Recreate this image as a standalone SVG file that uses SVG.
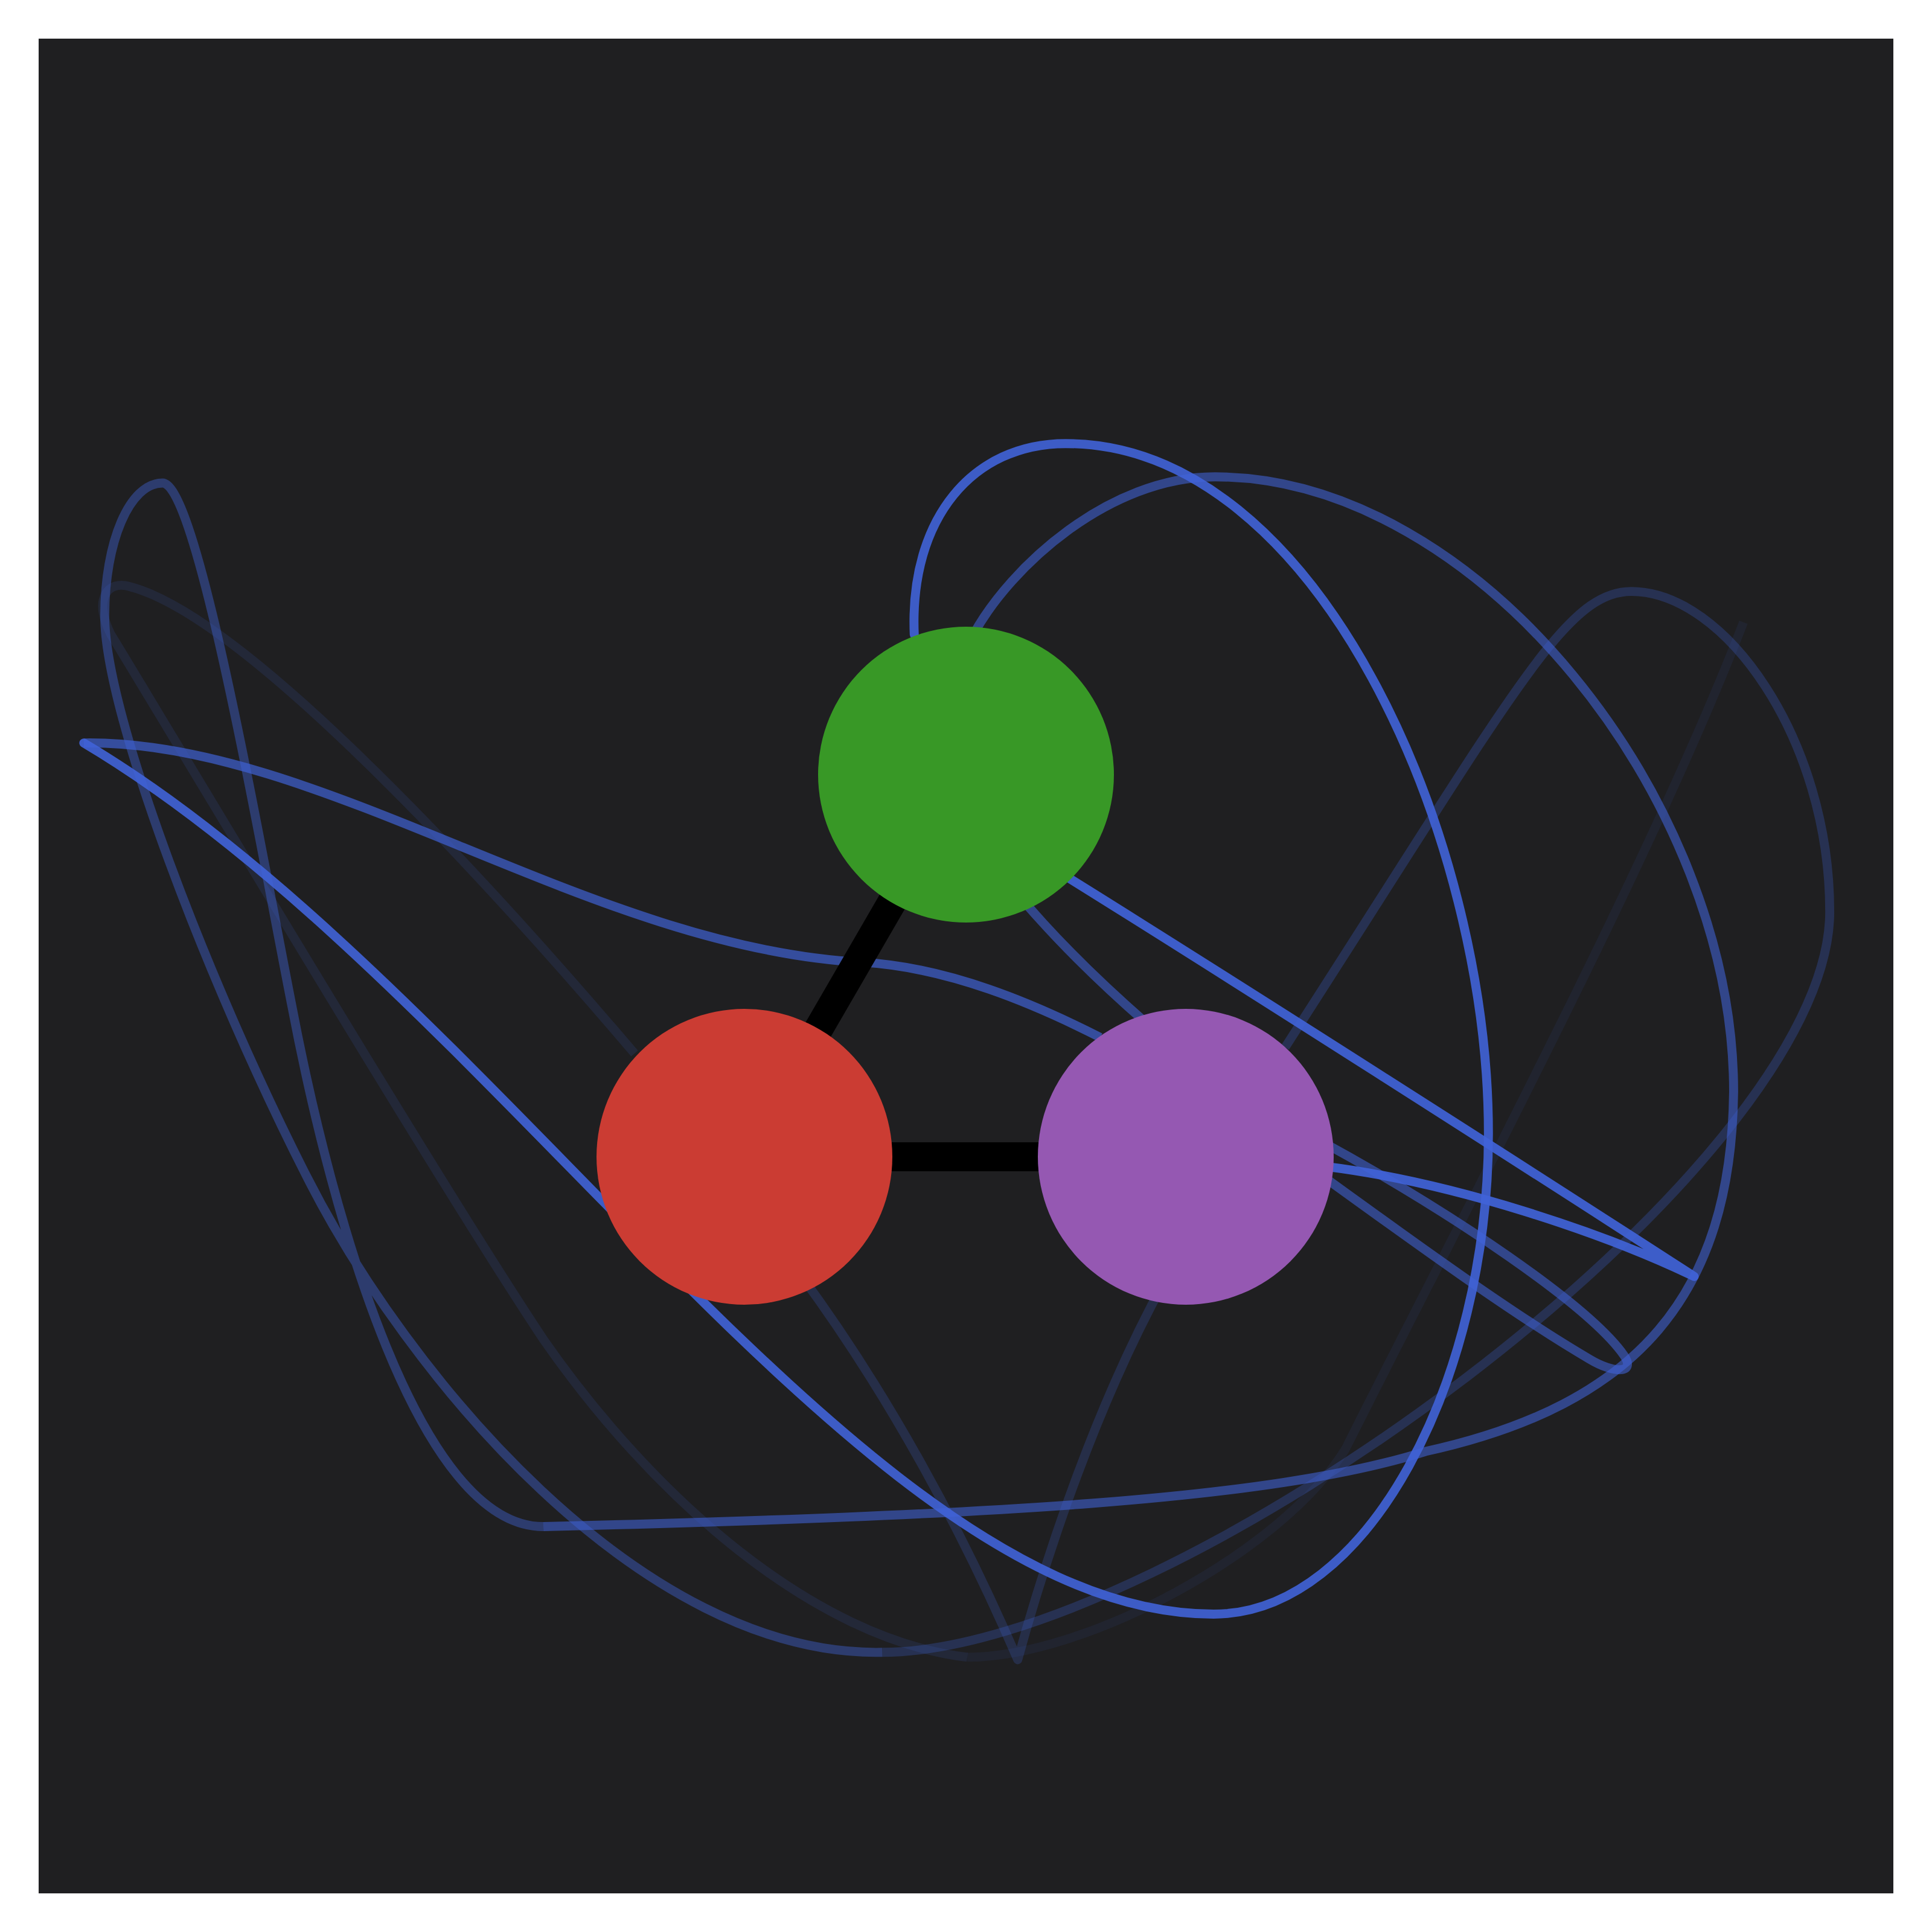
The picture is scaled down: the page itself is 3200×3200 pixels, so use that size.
<svg xmlns="http://www.w3.org/2000/svg" width="3200" height="3200" viewBox="0 0 3200 3200">
<style>
.c{fill:none;stroke:#4063D8;stroke-width:7.3;stroke-linejoin:round;stroke-linecap:butt}
.r{stroke-linecap:round}
.e{stroke:#000;stroke-width:48;stroke-linecap:butt}
</style>
<rect x="0" y="0" width="3200" height="3200" fill="#ffffff"/>
<rect x="64" y="64" width="3072" height="3072" fill="#1f1f21"/>
<g id="connectors">
<g transform="scale(2.040816)">
<path class="c" stroke-opacity="0.13" d="M 515 855 C 400 720, 200 500, 105 476 C 88 471, 75 485, 90 515 C 130 580, 350 950, 441 1087 C 530 1215, 660 1330, 785 1345"/>
<path class="c" stroke-opacity="0.08" d="M 785 1345 C 880 1345, 1040 1260, 1092 1176 C 1180 1000, 1340 700, 1415 505"/>
<path class="c" stroke-opacity="0.22" d="M 650 1035 C 720 1130, 780 1240, 826 1347 C 850 1260, 890 1140, 945 1040"/>
<path class="c" stroke-opacity="0.27" d="M 716 1341 C 950 1341, 1485 950, 1485 740 C 1485 600, 1400 480, 1324 480 C 1270 480, 1230 560, 1043 850"/>
<path class="c" stroke-opacity="0.42" d="M 441 1239 C 340 1239, 270 990, 237 817 C 210 680, 160 392, 132 392 C 105 392, 85 440, 85 500 C 85 580, 170 800, 249 955 C 330 1115, 520 1345, 716 1341"/>
<path class="c" stroke-opacity="0.58" d="M 790 515 C 820 460, 900 387, 986 387 C 1200 387, 1407 650, 1407 886 C 1405 1050, 1330 1140, 1157 1178 C 1030 1218, 800 1230, 441 1239"/>
<path class="c" stroke-opacity="0.58" d="M 834 735 C 860 765, 890 795, 930 830"/>
<path class="c r" stroke-opacity="0.58" d="M 1070 925 C 1180 985, 1290 1060, 1318 1100 C 1328 1115, 1310 1115, 1290 1103 C 1230 1068, 1150 1010, 1070 952"/>
<path class="c" stroke-opacity="0.68" d="M 68 603 C 260 600, 480 770, 700 781 C 770 785, 840 815, 893 842"/>
<path class="c r" stroke-opacity="0.9" d="M 742 515 C 738 420, 790 360, 865 360 C 1070 360, 1208 680, 1208 920 C 1208 1120, 1110 1310, 985 1310 C 700 1310, 400 800, 68 603"/>
<path class="c r" stroke-opacity="0.92" d="M 860 708 C 1000 795, 1250 955, 1375 1036 C 1300 1000, 1180 960, 1078 947 L 1040 944"/>
</g>
<line class="e" x1="1600" y1="1283" x2="1233" y2="1916"/>
<line class="e" x1="1233" y1="1916" x2="1964" y2="1916"/>
</g>
<g id="node-green"><circle cx="1600" cy="1283" r="245" fill="#389826"/></g>
<g id="node-red"><circle cx="1233" cy="1916" r="245" fill="#CB3C33"/></g>
<g id="node-purple"><circle cx="1964" cy="1916" r="245" fill="#9558B2"/></g>
</svg>
